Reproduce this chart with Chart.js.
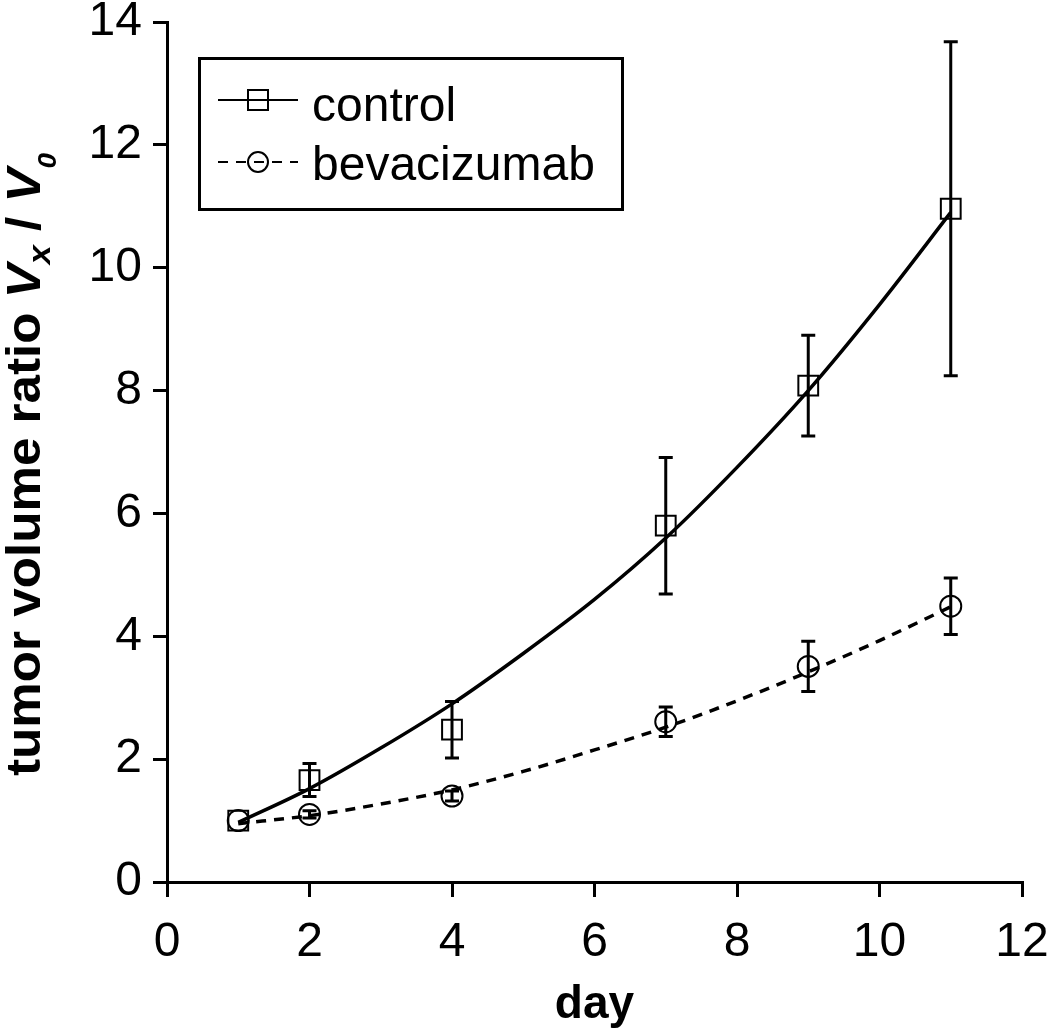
<!DOCTYPE html>
<html>
<head>
<meta charset="utf-8">
<script src="https://cdn.jsdelivr.net/npm/chart.js@4.4.1/dist/chart.umd.min.js"></script>
<style>
  html, body { margin: 0; padding: 0; background: #fff; }
</style>
</head>
<body>
<canvas id="chart" width="1050" height="1033"></canvas>
<script>
// Measured points: mean and error (half length of the bar)
const days = [1, 2, 4, 7, 9, 11];
const controlMean = [1.0, 1.66, 2.48, 5.8, 8.08, 10.96];
const controlErr = [0, 0.27, 0.46, 1.11, 0.82, 2.72];
const bevMean = [1.0, 1.1, 1.4, 2.61, 3.51, 4.49];
const bevErr = [0, 0.06, 0.08, 0.24, 0.41, 0.46];

// Fitted curves
const fitDays = [1, 2, 3, 4, 5, 6, 7, 8, 9, 10, 11];
const controlFit = [0.97, 1.52, 2.18, 2.9, 3.72, 4.6, 5.6, 6.75, 8.0, 9.4, 10.9];
const bevFit = [0.95, 1.08, 1.27, 1.5, 1.8, 2.15, 2.52, 2.95, 3.42, 3.93, 4.48];

const seriesNames = ["control", "bevacizumab"];

const FONT = "'Liberation Sans', Arial, Helvetica, sans-serif";

function points(xs, ys) {
  return xs.map((x, i) => ({ x: x, y: ys[i] }));
}

// Draw error bars from the mean/error arrays
const errorBars = {
  id: "errorBars",
  afterDatasetsDraw(chart) {
    const { ctx, scales: { x, y } } = chart;
    ctx.save();
    ctx.strokeStyle = "#000";
    ctx.lineWidth = 3;
    [[controlMean, controlErr], [bevMean, bevErr]].forEach(([m, e]) => {
      days.forEach((d, i) => {
        if (!e[i]) return;
        const px = x.getPixelForValue(d);
        const top = y.getPixelForValue(m[i] + e[i]);
        const bot = y.getPixelForValue(m[i] - e[i]);
        ctx.beginPath();
        ctx.moveTo(px, top); ctx.lineTo(px, bot);
        ctx.moveTo(px - 7, top); ctx.lineTo(px + 7, top);
        ctx.moveTo(px - 7, bot); ctx.lineTo(px + 7, bot);
        ctx.stroke();
      });
    });
    ctx.restore();
  }
};

// Boxed legend in the top-left corner
const boxLegend = {
  id: "boxLegend",
  afterDraw(chart) {
    const ctx = chart.ctx;
    const ds = chart.data.datasets;
    ctx.save();
    ctx.strokeStyle = "#000";
    ctx.lineWidth = 3;
    ctx.strokeRect(199.5, 58.5, 423, 151);

    const rows = [
      { line: ds[0], mark: ds[2], y: 100, base: 121 },
      { line: ds[1], mark: ds[3], y: 162, base: 180 }
    ];
    rows.forEach(r => {
      ctx.lineWidth = 2;
      ctx.setLineDash(r.line.borderDash || []);
      ctx.beginPath();
      ctx.moveTo(218, r.y);
      ctx.lineTo(298, r.y);
      ctx.stroke();
      ctx.setLineDash([]);
      ctx.beginPath();
      if (r.mark.pointStyle === "rect") {
        ctx.rect(248, r.y - 10, 20, 20);
      } else {
        ctx.arc(258, r.y, 10, 0, Math.PI * 2);
      }
      ctx.stroke();
      ctx.fillStyle = "#000";
      ctx.font = "48px " + FONT;
      ctx.textBaseline = "alphabetic";
      ctx.fillText(r.mark.label, 312, r.base);
    });
    ctx.restore();
  }
};

// Y axis title with subscripts
const yTitle = {
  id: "yTitle",
  afterDraw(chart) {
    const ctx = chart.ctx;
    const parts = [
      { t: "tumor volume ratio ", f: "bold 48px " + FONT, dy: 0 },
      { t: "V", f: "italic bold 48px " + FONT, dy: 0 },
      { t: "x", f: "italic bold 32px " + FONT, dy: 10 },
      { t: " / ", f: "bold 48px " + FONT, dy: 0 },
      { t: "V", f: "italic bold 48px " + FONT, dy: 0 },
      { t: "0", f: "italic bold 26px " + FONT, dy: 16 }
    ];
    ctx.save();
    let total = 0;
    parts.forEach(p => { ctx.font = p.f; p.w = ctx.measureText(p.t).width; total += p.w; });
    const start = 776, end = 153;
    const k = (start - end) / total;
    ctx.translate(40, start);
    ctx.rotate(-Math.PI / 2);
    ctx.scale(k, 1);
    ctx.fillStyle = "#000";
    ctx.textBaseline = "alphabetic";
    let x = 0;
    parts.forEach(p => {
      ctx.font = p.f;
      ctx.fillText(p.t, x, p.dy);
      x += p.w;
    });
    ctx.restore();
  }
};

new Chart(document.getElementById("chart"), {
  type: "scatter",
  data: {
    datasets: [
      {
        label: seriesNames[0],
        data: points(fitDays, controlFit),
        showLine: true,
        borderColor: "#000",
        borderWidth: 3.5,
        pointRadius: 0,
        cubicInterpolationMode: "monotone"
      },
      {
        label: seriesNames[1],
        data: points(fitDays, bevFit),
        showLine: true,
        borderColor: "#000",
        borderWidth: 3.5,
        borderDash: [10, 8],
        pointRadius: 0,
        cubicInterpolationMode: "monotone"
      },
      {
        label: seriesNames[0],
        data: points(days, controlMean),
        pointStyle: "rect",
        pointRadius: 14,
        pointBorderWidth: 2,
        pointBorderColor: "#000",
        pointBackgroundColor: "rgba(0,0,0,0)"
      },
      {
        label: seriesNames[1],
        data: points(days, bevMean),
        pointStyle: "circle",
        pointRadius: 10.5,
        pointBorderWidth: 2,
        pointBorderColor: "#000",
        pointBackgroundColor: "rgba(0,0,0,0)"
      }
    ]
  },
  options: {
    responsive: false,
    devicePixelRatio: 1,
    animation: false,
    layout: { padding: { top: 22, right: 28, bottom: 0, left: 0 } },
    plugins: { legend: { display: false }, tooltip: { enabled: false } },
    scales: {
      x: {
        type: "linear",
        min: 0,
        max: 12,
        ticks: { stepSize: 2, color: "#000", padding: 17, font: { family: FONT, size: 48 } },
        grid: { drawOnChartArea: false, drawTicks: true, tickLength: 15, color: "#000", lineWidth: 3 },
        border: { color: "#000", width: 3 },
        title: { display: true, text: "day", color: "#000", padding: 0, font: { family: FONT, size: 46, weight: "bold" } },
        afterFit(s) { s.height = 151; s.paddingLeft = 0; s.paddingRight = 0; }
      },
      y: {
        min: 0,
        max: 14,
        ticks: { stepSize: 2, color: "#000", padding: 11, font: { family: FONT, size: 48 } },
        grid: { drawOnChartArea: false, drawTicks: true, tickLength: 14, color: "#000", lineWidth: 3 },
        border: { color: "#000", width: 3 },
        afterFit(s) { s.width = 167; s.paddingTop = 0; s.paddingBottom = 0; }
      }
    }
  },
  plugins: [errorBars, boxLegend, yTitle]
});
</script>
</body>
</html>
